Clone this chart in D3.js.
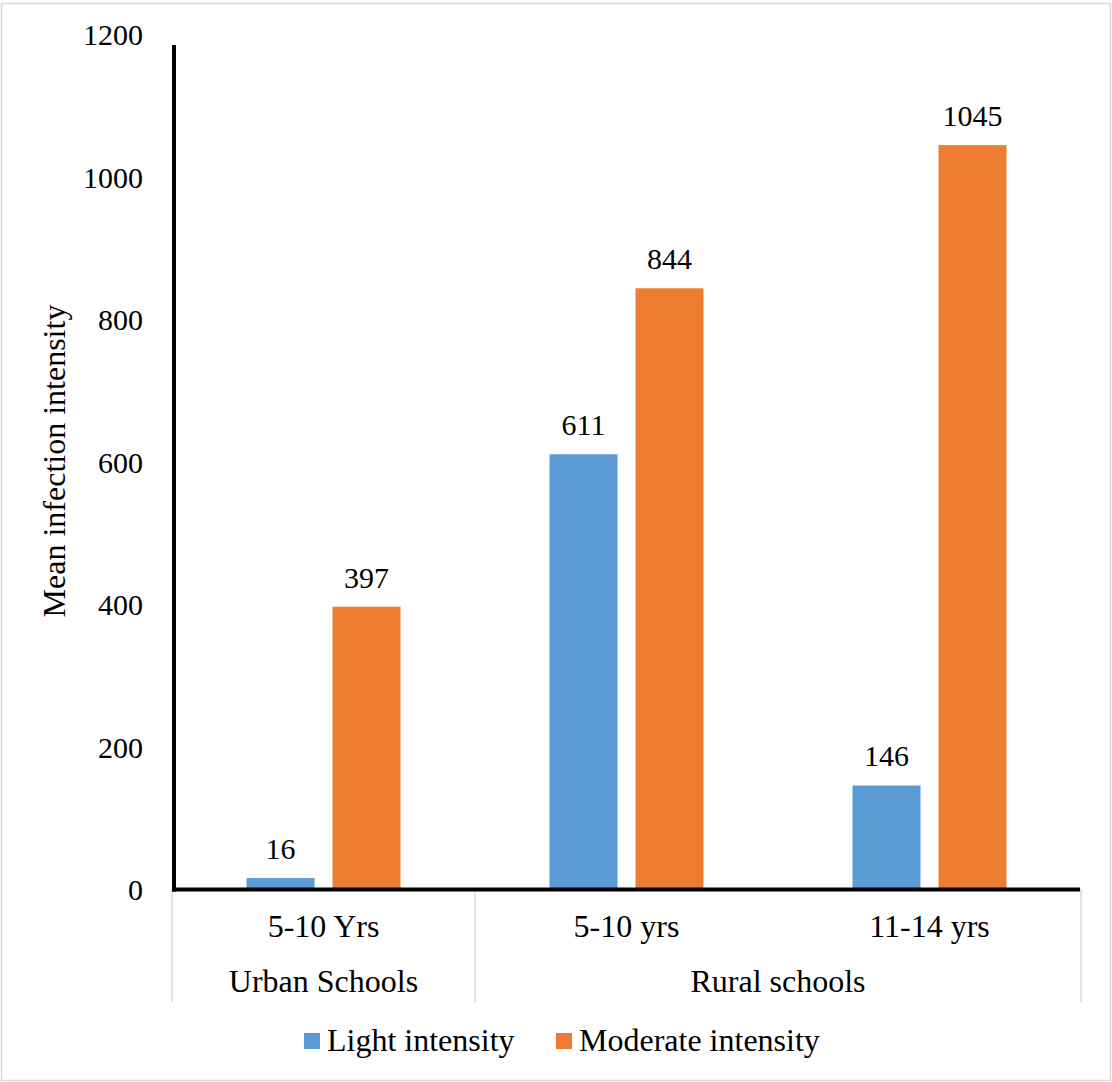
<!DOCTYPE html>
<html>
<head>
<meta charset="utf-8">
<script src="https://cdn.jsdelivr.net/npm/d3@7"></script>
<style>
  html, body { margin: 0; padding: 0; background: #fff; }
  svg { display: block; }
  text { font-family: "Liberation Serif", "Times New Roman", serif; fill: #000; }
</style>
</head>
<body>
<svg id="chart" width="1112" height="1082"></svg>
<script>
// Age groups (inner axis level) and the school type each belongs to (outer level)
const ageGroups = ["5-10 Yrs", "5-10 yrs", "11-14 yrs"];
const schoolGroups = [
  { label: "Urban Schools", from: 0, to: 0 },
  { label: "Rural schools", from: 1, to: 2 }
];
const seriesNames = ["Light intensity", "Moderate intensity"];
const lightValues = [16, 611, 146];
const moderateValues = [397, 844, 1045];
const yTicks = [0, 200, 400, 600, 800, 1000, 1200];
const colors = ["#5B9BD5", "#ED7D31"];

const svg = d3.select("#chart");
const NUM_FONT = 30;   // tick and value labels
const TEXT_FONT = 32;  // category labels, title, legend

// outer chart border
svg.append("rect")
  .attr("x", 1.5).attr("y", 3.5)
  .attr("width", 1109).attr("height", 1077)
  .attr("fill", "#fff").attr("stroke", "#d9d9d9").attr("stroke-width", 1.5);

const x0 = d3.scaleBand().domain(d3.range(ageGroups.length)).range([172, 1081]);
const y = d3.scaleLinear().domain([0, 1200]).range([889.5, 34.7]);

const barW = 68, gap = 18;
const series = [lightValues, moderateValues];

// bars with value labels
series.forEach((vals, si) => {
  const g = svg.append("g");
  g.selectAll("rect").data(vals).join("rect")
    .attr("x", (d, i) => x0(i) + x0.bandwidth() / 2 - barW - gap / 2 + si * (barW + gap))
    .attr("y", d => y(d))
    .attr("width", barW)
    .attr("height", d => y(0) - y(d))
    .attr("fill", colors[si]);
  g.selectAll("text").data(vals).join("text")
    .attr("x", (d, i) => x0(i) + x0.bandwidth() / 2 - barW / 2 - gap / 2 + si * (barW + gap))
    .attr("y", d => y(d) - 19)
    .attr("text-anchor", "middle")
    .attr("font-size", NUM_FONT)
    .text(d => d);
});

// y axis labels
const yAxis = d3.axisLeft(y).tickValues(yTicks).tickFormat(d3.format("d")).tickSize(0).tickPadding(0);
const yg = svg.append("g").attr("transform", "translate(143,0)").call(yAxis);
yg.attr("font-family", null).attr("font-size", null);
yg.select(".domain").remove();
yg.selectAll("text")
  .attr("font-size", NUM_FONT)
  .attr("fill", "#000")
  .attr("dy", "0.34em");

// category separators below the axis
const sepXs = [x0(0), x0(1), x0(2) + x0.bandwidth()];
svg.selectAll("line.sep").data(sepXs).join("line")
  .attr("class", "sep")
  .attr("x1", d => d).attr("x2", d => d)
  .attr("y1", 889).attr("y2", 1002)
  .attr("stroke", "#d9d9d9").attr("stroke-width", 1.5);

// axis lines
svg.append("line")
  .attr("x1", 174).attr("x2", 174).attr("y1", 45).attr("y2", 891.5)
  .attr("stroke", "#000").attr("stroke-width", 4);
svg.append("line")
  .attr("x1", 172).attr("x2", 1080).attr("y1", 889.5).attr("y2", 889.5)
  .attr("stroke", "#000").attr("stroke-width", 4);

// inner category labels
svg.selectAll("text.age").data(ageGroups).join("text")
  .attr("class", "age")
  .attr("x", (d, i) => x0(i) + x0.bandwidth() / 2)
  .attr("y", 937)
  .attr("text-anchor", "middle")
  .attr("font-size", TEXT_FONT)
  .text(d => d);

// outer category labels
svg.selectAll("text.school").data(schoolGroups).join("text")
  .attr("class", "school")
  .attr("x", d => (x0(d.from) + x0(d.to) + x0.bandwidth()) / 2)
  .attr("y", 992)
  .attr("text-anchor", "middle")
  .attr("font-size", TEXT_FONT)
  .text(d => d.label);

// y axis title
svg.append("text")
  .attr("transform", "translate(65,461) rotate(-90)")
  .attr("text-anchor", "middle")
  .attr("font-size", TEXT_FONT)
  .text("Mean infection intensity");

// legend
const legendItems = [
  { name: seriesNames[0], color: colors[0], x: 304 },
  { name: seriesNames[1], color: colors[1], x: 556 }
];
const lg = svg.append("g");
legendItems.forEach(it => {
  lg.append("rect").attr("x", it.x).attr("y", 1033).attr("width", 16).attr("height", 16).attr("fill", it.color);
  lg.append("text").attr("x", it.x + 23).attr("y", 1051).attr("font-size", TEXT_FONT).text(it.name);
});
</script>
</body>
</html>
